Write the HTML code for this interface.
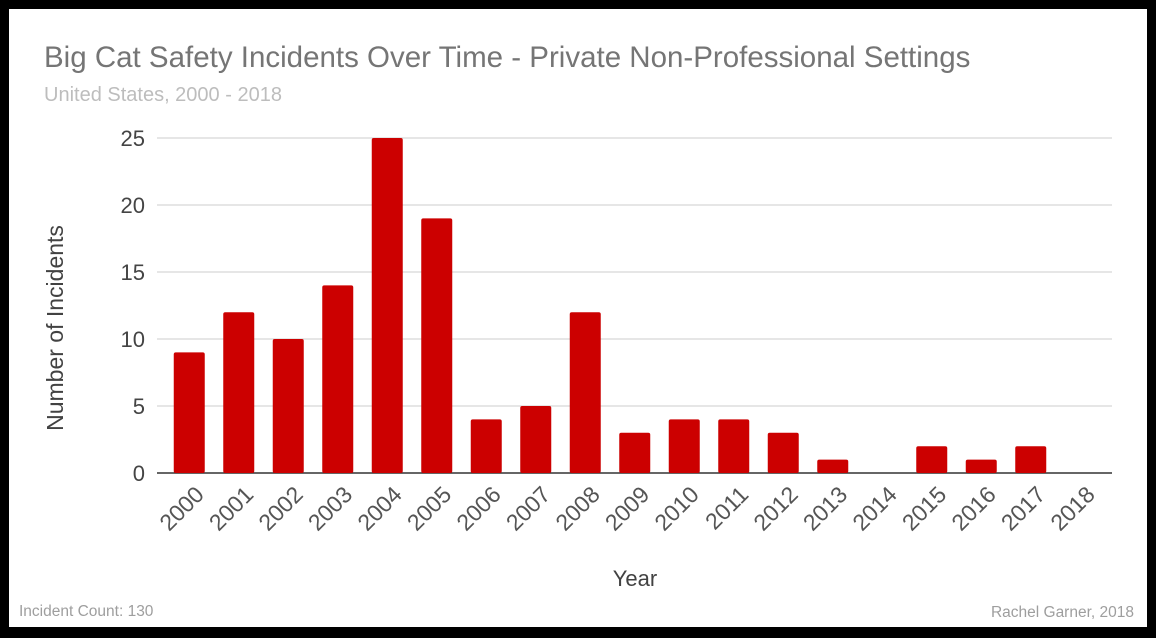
<!DOCTYPE html>
<html><head><meta charset="utf-8"><style>
body{margin:0;background:#000;}
svg{display:block;font-family:"Liberation Sans",sans-serif;}
</style></head><body>
<svg width="1156" height="638">
<rect x="9" y="9" width="1138" height="618" fill="#fff"/>
<text x="44" y="67" font-size="29.5" fill="#757575">Big Cat Safety Incidents Over Time - Private Non-Professional Settings</text>
<text x="44" y="101" font-size="20" fill="#bdbdbd">United States, 2000 - 2018</text>
<g id="grid"></g>
<g id="bars"></g>
<g id="xlabels"></g>
<text transform="translate(63,328) rotate(-90)" text-anchor="middle" font-size="23" fill="#424242">Number of Incidents</text>
<text x="635" y="586" text-anchor="middle" font-size="22" fill="#424242">Year</text>
<text x="19" y="616" font-size="15.5" fill="#9e9e9e">Incident Count: 130</text>
<text x="1134" y="617" text-anchor="end" font-size="15.5" fill="#9e9e9e">Rachel Garner, 2018</text>
</svg>
<script>
const categories=["2000","2001","2002","2003","2004","2005","2006","2007","2008","2009","2010","2011","2012","2013","2014","2015","2016","2017","2018"];
const values=[9,12,10,14,25,19,4,5,12,3,4,4,3,1,0,2,1,2,0];
const yTicks=[0,5,10,15,20,25];
const NS="http://www.w3.org/2000/svg";
const y0=473,yTop=138,yMax=25,xStart=164.5,band=49.5,barW=31;
function yScale(v){return y0-(v/yMax)*(y0-yTop);}
function xCenter(i){return xStart+band*(i+0.5);}
const grid=document.getElementById('grid');
yTicks.forEach(t=>{
  const l=document.createElementNS(NS,'line');
  l.setAttribute('x1',157);l.setAttribute('x2',1112);
  l.setAttribute('y1',yScale(t));l.setAttribute('y2',yScale(t));
  l.setAttribute('stroke',t===0?'#333':'#ccc');l.setAttribute('stroke-width',t===0?1.5:1);
  
  
  grid.appendChild(l);
  const tx=document.createElementNS(NS,'text');
  tx.setAttribute('x',145);tx.setAttribute('y',yScale(t)+8);
  tx.setAttribute('text-anchor','end');tx.setAttribute('font-size','22');tx.setAttribute('fill','#444');
  tx.textContent=t;
  
  
  grid.appendChild(tx);
});
const bars=document.getElementById('bars');
const xl=document.getElementById('xlabels');
categories.forEach((c,i)=>{
  const v=values[i];
  if(v>0){
    const r=document.createElementNS(NS,'rect');
    r.setAttribute('x',xCenter(i)-barW/2);r.setAttribute('width',barW);
    r.setAttribute('y',yScale(v));r.setAttribute('height',y0-yScale(v));
    r.setAttribute('rx',2);r.setAttribute('fill','#cc0000');
    
    
    bars.appendChild(r);
  }
  const t=document.createElementNS(NS,'text');
  const lx=xCenter(i)+16,ly=496;
  t.setAttribute('transform','translate('+lx+','+ly+') rotate(-45)');
  t.setAttribute('text-anchor','end');t.setAttribute('font-size','23');t.setAttribute('fill','#555');
  t.textContent=c;
  
  
  xl.appendChild(t);
});
</script>
</body></html>
